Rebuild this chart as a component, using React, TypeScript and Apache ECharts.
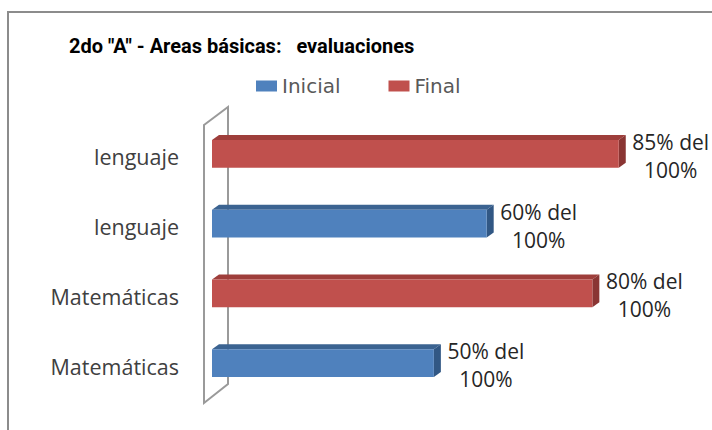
import React, { useEffect, useRef } from "react";
import * as echarts from "echarts";

const categories = ["Matemáticas", "Matemáticas", "lenguaje", "lenguaje"];
const inicialValues: (number | null)[] = [50, null, 60, null];
const finalValues: (number | null)[] = [null, 80, null, 85];
const seriesNames = ["Inicial", "Final"];
const titleText = '2do "A" - Areas básicas:   evaluaciones';

const palette = {
  Inicial: { front: "#4F81BD", top: "#3B6391", side: "#315784" },
  Final: { front: "#C0504D", top: "#9E3E3B", side: "#8A3533" },
};

const toData = (vals: (number | null)[]) =>
  vals.map((v, i) => (v == null ? null : [v, i])).filter((d) => d !== null);

function makeRenderItem(colors: { front: string; top: string; side: string }) {
  return (params: any, api: any) => {
    const v = api.value(0);
    const idx = api.value(1);
    const end = api.coord([v, idx]);
    const x0 = params.coordSys.x;
    const bandH = api.size([0, 1])[1];
    const h = bandH * 0.4;
    const cy = end[1] - 3;
    const yTop = cy - h / 2;
    const dx = 7;
    const dy = -5;
    const x1 = end[0];
    return {
      type: "group",
      children: [
        {
          type: "polygon",
          shape: {
            points: [
              [x0, yTop],
              [x0 + dx, yTop + dy],
              [x1 + dx, yTop + dy],
              [x1, yTop],
            ],
          },
          style: { fill: colors.top },
        },
        {
          type: "polygon",
          shape: {
            points: [
              [x1, yTop],
              [x1 + dx, yTop + dy],
              [x1 + dx, yTop + h + dy],
              [x1, yTop + h],
            ],
          },
          style: { fill: colors.side },
        },
        {
          type: "rect",
          shape: { x: x0, y: yTop, width: x1 - x0, height: h },
          style: { fill: colors.front },
        },
        {
          type: "text",
          style: {
            text: `${v}% del\n100%`,
            x: x1 + 52,
            y: cy + 2,
            align: "center",
            verticalAlign: "middle",
            fontSize: 21,
            lineHeight: 28,
            fontFamily: "'Open Sans', sans-serif",
            fill: "#262626",
          },
        },
      ],
    };
  };
}

export default function App() {
  const ref = useRef<HTMLDivElement>(null);
  useEffect(() => {
    if (!ref.current) return;
    const chart = echarts.init(ref.current, undefined, { renderer: "svg" });
    chart.setOption({
      animation: false,
      backgroundColor: "#ffffff",
      color: [palette.Inicial.front, palette.Final.front],
      title: {
        text: titleText,
        left: 64,
        top: 31,
        textStyle: {
          fontFamily: "Roboto, 'Open Sans', sans-serif",
          fontWeight: "bold",
          fontSize: 20,
          color: "#000000",
        },
      },
      legend: {
        data: seriesNames.map((n) => ({ name: n, icon: "rect" })),
        left: 251,
        top: 71,
        itemWidth: 21,
        itemHeight: 11,
        itemGap: 48,
        textStyle: {
          fontFamily: "'DejaVu Sans', sans-serif",
          fontSize: 20,
          color: "#595959",
        },
      },
      grid: { left: 212, right: 14, top: 122, height: 279 },
      xAxis: { type: "value", min: 8, max: 100, show: false },
      yAxis: {
        type: "category",
        data: categories,
        axisLine: { show: false },
        axisTick: { show: false },
        splitLine: { show: false },
        axisLabel: {
          margin: 33,
          fontSize: 21.5,
          fontFamily: "'Open Sans', sans-serif",
          color: "#404040",
        },
      },
      graphic: [
        {
          type: "rect",
          z: 0,
          shape: { x: 8, y: 12, width: 720, height: 440 },
          style: { fill: "none", stroke: "#8c8c8c", lineWidth: 2 },
        },
        {
          type: "polygon",
          z: 0,
          shape: {
            points: [
              [204, 125],
              [228, 107],
              [228, 384],
              [204, 403],
            ],
          },
          style: { fill: "none", stroke: "#9a9a9a", lineWidth: 2 },
        },
      ],
      series: [
        {
          name: seriesNames[0],
          type: "custom",
          renderItem: makeRenderItem(palette.Inicial),
          encode: { x: 0, y: 1 },
          data: toData(inicialValues),
          z: 5,
        },
        {
          name: seriesNames[1],
          type: "custom",
          renderItem: makeRenderItem(palette.Final),
          encode: { x: 0, y: 1 },
          data: toData(finalValues),
          z: 5,
        },
      ],
    });
    return () => chart.dispose();
  }, []);
  return (
    <div
      ref={ref}
      style={{ position: "absolute", left: 0, top: 0, width: 712, height: 430 }}
    />
  );
}
